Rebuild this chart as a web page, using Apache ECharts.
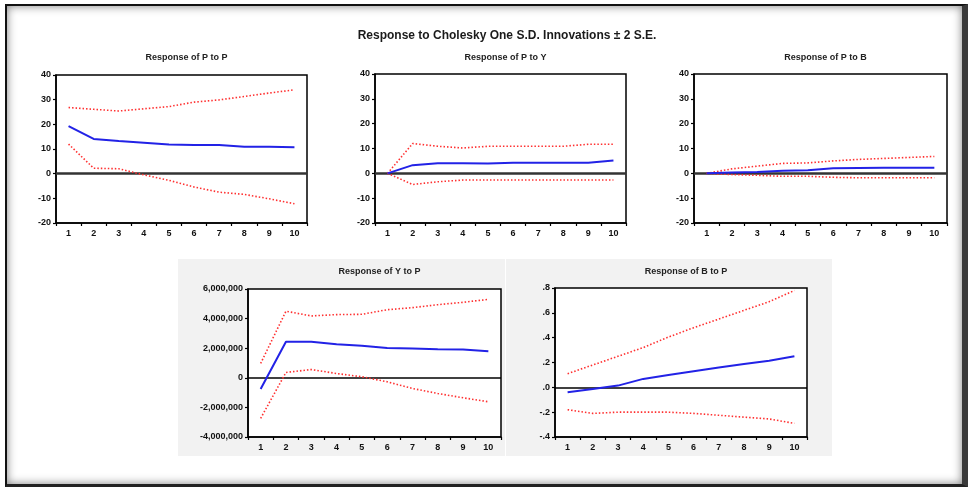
<!DOCTYPE html>
<html>
<head>
<meta charset="utf-8">
<script src="https://cdn.jsdelivr.net/npm/echarts@6/dist/echarts.min.js"></script>
<style>
  html, body { margin: 0; padding: 0; background: #fff; }
  #wrap { position: relative; width: 968px; height: 489px; overflow: hidden; background: #fff; }
  #frame { position: absolute; left: 5px; top: 4px; width: 955px; height: 478px;
           border-left: 2px solid #111; border-top: 2px solid #111;
           border-right: 6px solid #3a3a3a; border-bottom: 3px solid #222;
           box-shadow: inset 0 0 10px rgba(0,0,0,0.5); }
  #chart { position: absolute; left: 0; top: 0; width: 968px; height: 489px; }
</style>
</head>
<body>
<div id="wrap">
  <div id="frame"></div>
  <div id="chart"></div>
</div>
<script>
const categories = ['1', '2', '3', '4', '5', '6', '7', '8', '9', '10'];
const mainTitle = 'Response to Cholesky One S.D. Innovations \u00b1 2 S.E.';
const panelTitles = ['Response of P to P', 'Response of P to Y', 'Response of P to B', 'Response of Y to P', 'Response of B to P'];

// Response of P to P
const ppMid = [19.3, 14.1, 13.2, 12.5, 11.8, 11.6, 11.6, 10.9, 10.9, 10.7];
const ppUp  = [26.8, 26.1, 25.4, 26.3, 27.2, 29.0, 29.9, 31.3, 32.7, 34.0];
const ppLo  = [12.0, 2.2, 2.0, -0.5, -2.7, -5.4, -7.5, -8.4, -10.2, -12.2];
// Response of P to Y
const pyMid = [0, 3.3, 4.1, 4.1, 4.0, 4.3, 4.3, 4.3, 4.3, 5.2];
const pyUp  = [0, 12.0, 10.9, 10.2, 10.9, 10.9, 10.9, 10.9, 11.7, 11.7];
const pyLo  = [0, -4.5, -3.4, -2.7, -2.7, -2.7, -2.7, -2.7, -2.7, -2.7];
// Response of P to B
const pbMid = [0, 0.3, 0.5, 1.0, 1.2, 2.0, 2.1, 2.2, 2.2, 2.2];
const pbUp  = [0, 1.8, 2.9, 4.0, 4.2, 5.0, 5.6, 6.0, 6.4, 6.8];
const pbLo  = [0, -0.5, -0.8, -1.2, -1.2, -1.6, -1.8, -1.8, -1.8, -1.8];
// Response of Y to P
const ypMid = [-760000, 2430000, 2430000, 2270000, 2160000, 2020000, 1980000, 1930000, 1910000, 1800000];
const ypUp  = [970000, 4500000, 4180000, 4270000, 4290000, 4600000, 4740000, 4940000, 5100000, 5300000];
const ypLo  = [-2740000, 360000, 560000, 290000, 70000, -270000, -720000, -1060000, -1350000, -1620000];
// Response of B to P
const bpMid = [-0.04, -0.014, 0.014, 0.068, 0.10, 0.13, 0.16, 0.187, 0.214, 0.25];
const bpUp  = [0.11, 0.18, 0.25, 0.32, 0.405, 0.48, 0.55, 0.62, 0.69, 0.78];
const bpLo  = [-0.18, -0.21, -0.20, -0.20, -0.20, -0.21, -0.225, -0.24, -0.255, -0.29];

// y-axis tick settings per panel
const yMin = [-20, -20, -20, -4000000, -0.4];
const yMax = [40, 40, 40, 6000000, 0.8];
const yStep = [10, 10, 10, 2000000, 0.2];

const panels = [
  [ppMid, ppUp, ppLo], [pyMid, pyUp, pyLo], [pbMid, pbUp, pbLo],
  [ypMid, ypUp, ypLo], [bpMid, bpUp, bpLo]
];

const grids = [
  { left: 56, top: 75, width: 251, height: 148 },
  { left: 375, top: 74, width: 251, height: 149 },
  { left: 694, top: 74, width: 253, height: 149 },
  { left: 248, top: 289, width: 253, height: 148 },
  { left: 555, top: 288, width: 252, height: 149 }
];

const FONT = 'Liberation Sans, Arial, sans-serif';

function fmt(i, v) {
  if (i === 3) {
    return Math.round(v).toLocaleString('en-US');
  }
  if (i === 4) {
    let s = (Math.round(v * 10) / 10).toFixed(1);
    return s.replace(/^(-?)0\./, '$1.');
  }
  return String(v);
}

const option = {
  animation: false,
  backgroundColor: 'transparent',
  title: [
    { text: mainTitle, left: 502, top: 25, textAlign: 'center',
      textStyle: { fontFamily: FONT, fontSize: 12, fontWeight: 'bold', color: '#1a1a1a' } }
  ].concat(panelTitles.map((t, i) => ({
    text: t,
    left: grids[i].left + grids[i].width / 2,
    top: i < 3 ? 48 : 262,
    textAlign: 'center',
    textStyle: { fontFamily: FONT, fontSize: 9, fontWeight: 'bold', color: '#222' }
  }))),
  graphic: [
    { type: 'rect', shape: { x: 178, y: 259, width: 327, height: 197 }, style: { fill: '#f2f2f2' }, z: -10 },
    { type: 'rect', shape: { x: 506, y: 259, width: 326, height: 197 }, style: { fill: '#f2f2f2' }, z: -10 }
  ],
  grid: grids.map(g => Object.assign({ show: true, backgroundColor: '#fff', borderColor: '#000', borderWidth: 1.5 }, g)),
  xAxis: grids.map((g, i) => ({
    type: 'category', gridIndex: i, data: categories, boundaryGap: true,
    axisLine: { onZero: false, lineStyle: { color: '#000', width: 1.5 } },
    axisTick: { show: true, length: 3, inside: false, lineStyle: { color: '#000', width: 1.2 } },
    axisLabel: { fontFamily: FONT, fontSize: 9, color: '#111', margin: 6, fontWeight: 'bold' },
    splitLine: { show: false }
  })),
  yAxis: grids.map((g, i) => ({
    type: 'value', gridIndex: i, min: yMin[i], max: yMax[i], interval: yStep[i],
    axisLine: { show: true, lineStyle: { color: '#000', width: 1.5 } },
    axisTick: { show: true, length: 3, lineStyle: { color: '#000', width: 1.2 } },
    axisLabel: { fontFamily: FONT, fontSize: 9, color: '#111', margin: 5, fontWeight: 'bold',
                 formatter: v => fmt(i, v) },
    splitLine: { show: false }
  })),
  series: []
};

panels.forEach((p, i) => {
  option.series.push({
    type: 'line', xAxisIndex: i, yAxisIndex: i, data: p[1], symbol: 'none',
    lineStyle: { color: '#ff3030', width: 1.6, type: [1.5, 2] }, z: 3
  });
  option.series.push({
    type: 'line', xAxisIndex: i, yAxisIndex: i, data: p[2], symbol: 'none',
    lineStyle: { color: '#ff3030', width: 1.6, type: [1.5, 2] }, z: 3
  });
  option.series.push({
    type: 'line', xAxisIndex: i, yAxisIndex: i, data: p[0], symbol: 'none',
    lineStyle: { color: '#2222e6', width: 2 }, z: 4,
    markLine: {
      silent: true, symbol: 'none', label: { show: false },
      lineStyle: { color: i < 3 ? '#333' : '#000', width: i < 3 ? 2.5 : 1.5, type: 'solid' },
      data: [{ yAxis: 0 }], z: 2
    }
  });
});

const chart = echarts.init(document.getElementById('chart'), null, { renderer: 'canvas' });
chart.setOption(option);
</script>
</body>
</html>
